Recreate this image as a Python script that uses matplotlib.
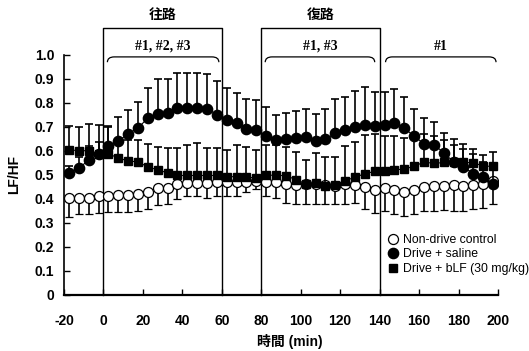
import matplotlib
matplotlib.use("Agg")
import matplotlib.pyplot as plt
from matplotlib.lines import Line2D
from matplotlib.path import Path
from matplotlib.patches import PathPatch

plt.rcParams['font.family'] = ['Liberation Sans', 'Noto Sans CJK JP']

# ---------------- data ----------------
time_min = [-17.5, -12.5, -7.5, -2.5, 2.5, 7.5, 12.5, 17.5, 22.5, 27.5, 32.5,
            37.5, 42.5, 47.5, 52.5, 57.5, 62.5, 67.5, 72.5, 77.5, 82.5, 87.5,
            92.5, 97.5, 102.5, 107.5, 112.5, 117.5, 122.5, 127.5, 132.5, 137.5,
            142.5, 147.5, 152.5, 157.5, 162.5, 167.5, 172.5, 177.5, 182.5, 187.5,
            192.5, 197.5]

control_mean = [0.405, 0.405, 0.405, 0.41, 0.41, 0.415, 0.415, 0.42, 0.43, 0.445, 0.445,
                0.46, 0.465, 0.465, 0.465, 0.47, 0.47, 0.47, 0.47, 0.475, 0.47, 0.468,
                0.463, 0.458, 0.46, 0.46, 0.458, 0.455, 0.46, 0.458, 0.449, 0.435,
                0.443, 0.435, 0.43, 0.438, 0.449, 0.455, 0.455, 0.458, 0.455, 0.458,
                0.462, 0.472]
control_sd = [0.08, 0.07, 0.07, 0.07, 0.065, 0.07, 0.07, 0.07, 0.072, 0.07, 0.065,
              0.06, 0.055, 0.055, 0.06, 0.06, 0.06, 0.06, 0.04, 0.035, 0.058, 0.065,
              0.08, 0.08, 0.08, 0.08, 0.08, 0.075, 0.08, 0.075, 0.09, 0.095,
              0.095, 0.10, 0.10, 0.10, 0.10, 0.105, 0.10, 0.11, 0.105, 0.10,
              0.10, 0.095]

saline_mean = [0.507, 0.528, 0.56, 0.588, 0.62, 0.639, 0.671, 0.694, 0.736, 0.753, 0.757,
               0.778, 0.778, 0.778, 0.774, 0.75, 0.729, 0.715, 0.692, 0.685, 0.662, 0.643,
               0.648, 0.653, 0.657, 0.639, 0.647, 0.672, 0.687, 0.70, 0.708, 0.704,
               0.708, 0.716, 0.694, 0.66, 0.629, 0.625, 0.592, 0.553, 0.532, 0.505,
               0.49, 0.462]
saline_sd = [0.03, 0.045, 0.06, 0.05, 0.08, 0.10, 0.10, 0.11, 0.125, 0.145, 0.14,
             0.145, 0.145, 0.145, 0.145, 0.14, 0.13, 0.125, 0.125, 0.125, 0.12, 0.105,
             0.11, 0.11, 0.115, 0.115, 0.125, 0.145, 0.135, 0.15, 0.155, 0.14,
             0.135, 0.14, 0.13, 0.115, 0.105, 0.095, 0.08, 0.095, 0.095, 0.08,
             0.065, 0.06]

blf_mean = [0.604, 0.60, 0.60, 0.585, 0.588, 0.569, 0.558, 0.553, 0.533, 0.52, 0.508,
            0.497, 0.497, 0.497, 0.497, 0.497, 0.492, 0.492, 0.49, 0.487, 0.498, 0.498,
            0.496, 0.48, 0.463, 0.465, 0.455, 0.458, 0.475, 0.49, 0.504, 0.514,
            0.516, 0.52, 0.524, 0.535, 0.553, 0.547, 0.551, 0.553, 0.551, 0.55,
            0.536, 0.535]
blf_sd = [0.10, 0.10, 0.11, 0.12, 0.115, 0.075, 0.085, 0.09, 0.095, 0.095, 0.105,
          0.115, 0.125, 0.135, 0.115, 0.115, 0.11, 0.13, 0.125, 0.115, 0.125, 0.125,
          0.12, 0.115, 0.10, 0.125, 0.12, 0.115, 0.145, 0.145, 0.16, 0.155,
          0.145, 0.14, 0.13, 0.115, 0.115, 0.115, 0.095, 0.07, 0.055, 0.055,
          0.045, 0.06]

series_labels = ["Non-drive control", "Drive + saline", "Drive + bLF (30 mg/kg)"]
x_ticks = [-20, 0, 20, 40, 60, 80, 100, 120, 140, 160, 180, 200]
y_ticks = [0, 0.1, 0.2, 0.3, 0.4, 0.5, 0.6, 0.7, 0.8, 0.9, 1.0]
y_ticklabels = ["0", "0.1", "0.2", "0.3", "0.4", "0.5", "0.6", "0.7", "0.8", "0.9", "1.0"]

phase_names = ["往路", "復路"]
phase_spans = [(0, 60), (80, 140)]
sig_texts = ["#1, #2, #3", "#1, #3", "#1"]
sig_spans = [(2, 58.5), (82, 137.5), (143, 199)]

# ---------------- figure ----------------
W, H = 529, 351
fig = plt.figure(figsize=(W / 100, H / 100), dpi=100)
ax = fig.add_axes([64 / W, 1 - 295 / H, 434 / W, 240.5 / H])

ebkw = dict(color='black', lw=0.8, elinewidth=1.2, capsize=2.6, capthick=1.2)

# Non-drive control: lower error bars
ax.errorbar(time_min, control_mean, yerr=[control_sd, [0] * len(control_sd)],
            marker='o', ms=7.2, mfc='white', mec='black', mew=0.9, zorder=3, **ebkw)
# Drive + saline: upper error bars
ax.errorbar(time_min, saline_mean, yerr=[[0] * len(saline_sd), saline_sd],
            marker='o', ms=7.4, mfc='black', mec='black', zorder=4, **ebkw)
# Drive + bLF: upper error bars
ax.errorbar(time_min, blf_mean, yerr=[[0] * len(blf_sd), blf_sd],
            marker='s', ms=6.4, mfc='black', mec='black', zorder=5, **ebkw)

ax.set_xlim(-20, 200)
ax.set_ylim(0, 1.0)

for s in ['top', 'right']:
    ax.spines[s].set_visible(False)
ax.spines['left'].set_linewidth(1.2)
ax.spines['bottom'].set_linewidth(1.6)

ax.set_xticks(x_ticks)
ax.set_xticklabels([str(t) for t in x_ticks], fontsize=10, fontweight='bold')
ax.set_yticks(y_ticks)
ax.set_yticklabels(y_ticklabels, fontsize=10, fontweight='bold')
ax.tick_params(axis='x', direction='in', length=4, width=1.0, pad=14)
ax.tick_params(axis='y', direction='in', length=4, width=1.0, pad=7)

# phase boxes
box_top = 1.112
for (a, b), name in zip(phase_spans, phase_names):
    ax.plot([a, a, b, b], [0, box_top, box_top, 0], color='black', lw=1.0,
            clip_on=False, zorder=2)
    ax.text((a + b) / 2, 1.164, name, ha='center', va='center', fontsize=10,
            fontweight='bold', family=['Noto Sans CJK JP'])

# significance brackets
y_top, y_bot, dx = 0.99, 0.968, 3.5
for (a, b), t in zip(sig_spans, sig_texts):
    verts = [(a, y_bot), (a, y_top), (a + dx, y_top), (b - dx, y_top),
             (b, y_top), (b, y_bot)]
    codes = [Path.MOVETO, Path.CURVE3, Path.CURVE3, Path.LINETO,
             Path.CURVE3, Path.CURVE3]
    ax.add_patch(PathPatch(Path(verts, codes), fill=False, lw=0.9,
                           edgecolor='black', clip_on=False))
    ax.text((a + b) / 2, 1.035, t, ha='center', va='center', fontsize=10,
            fontweight='bold', family=['Liberation Serif'])

# axis labels
ax.text(-0.115, 0.5, "LF/HF", transform=ax.transAxes, rotation=90,
        ha='center', va='center', fontsize=10, fontweight='bold')
ax.text(0.52, -0.195, "時間 (min)", transform=ax.transAxes,
        ha='center', va='center', fontsize=10, fontweight='bold')

# legend
handles = [
    Line2D([], [], ls='none', marker='o', ms=7.2, mfc='white', mec='black', mew=0.9),
    Line2D([], [], ls='none', marker='o', ms=7.4, mfc='black', mec='black'),
    Line2D([], [], ls='none', marker='s', ms=6.4, mfc='black', mec='black'),
]
ax.legend(handles, series_labels, loc='upper left', bbox_to_anchor=(387 / W, 1 - 234 / H),
          bbox_transform=fig.transFigure, frameon=False, handlelength=1.0,
          handletextpad=0.3, labelspacing=0.2, borderpad=0, borderaxespad=0,
          prop={'size': 8.8})

fig.savefig("out.png", dpi=100)
